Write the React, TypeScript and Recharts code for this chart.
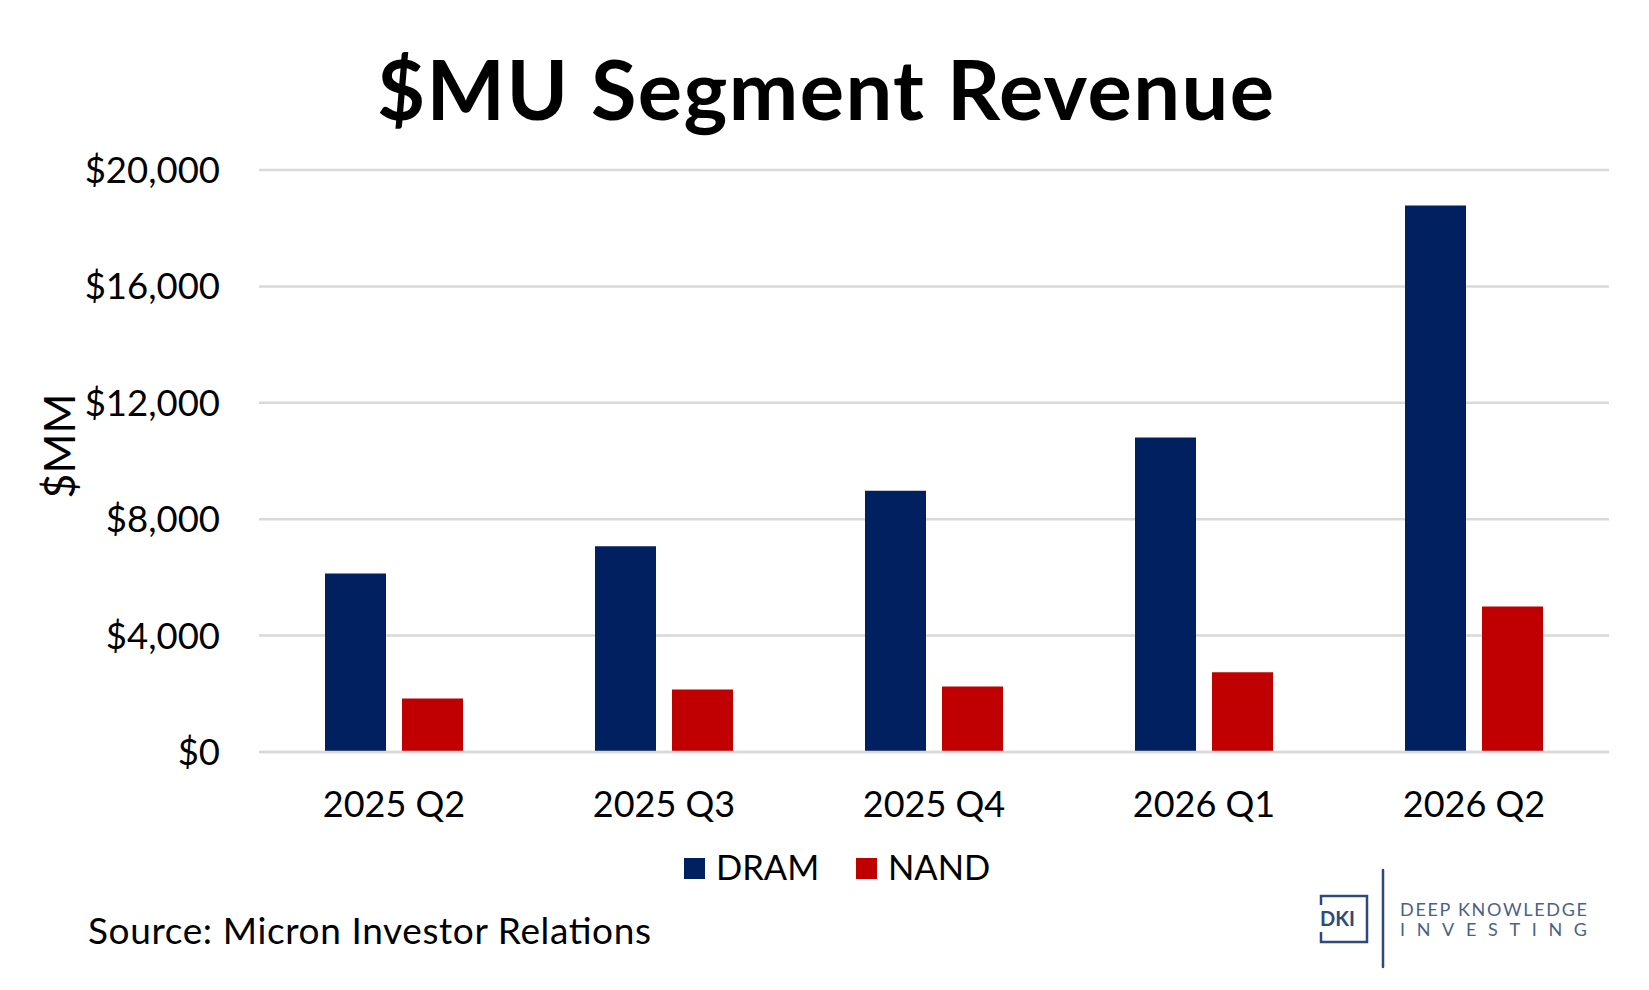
import { Bar, BarChart, CartesianGrid, XAxis, YAxis } from 'recharts';
import type { JSX } from 'react';

const quarters = ['2025 Q2', '2025 Q3', '2025 Q4', '2026 Q1', '2026 Q2'];
const dramRevenue = [6130, 7070, 8980, 10810, 18780];
const nandRevenue = [1840, 2150, 2250, 2740, 5000];
const yTicks = [0, 4000, 8000, 12000, 16000, 20000];

const series = [
  { key: 'DRAM', color: '#002060' },
  { key: 'NAND', color: '#C00000' },
];

const data = quarters.map((quarter, i) => ({
  quarter,
  DRAM: dramRevenue[i],
  NAND: nandRevenue[i],
}));

const FONT = 'Lato, "Open Sans", sans-serif';
const W = 1649;
const H = 990;
const LOGO = '#2e4a7d';

function formatDollars(value: number): string {
  return '$' + value.toLocaleString('en-US');
}

function Overlay(): JSX.Element {
  return (
    <svg width={W} height={H} style={{ position: 'absolute', left: 0, top: 0, pointerEvents: 'none' }}>
      <text
        x={377}
        y={120}
        fontFamily={FONT}
        fontWeight={700}
        fontSize={83}
        fill="#000"
        textLength={897}
        lengthAdjust="spacing"
      >
        $MU Segment Revenue
      </text>
      <text
        x={75}
        y={446}
        textAnchor="middle"
        transform="rotate(-90, 75, 446)"
        fontFamily={FONT}
        fontSize={43}
        fill="#000"
      >
        $MM
      </text>

      {/* legend */}
      {series.map((s, i) => {
        const x0 = i === 0 ? 684 : 856;
        return (
          <g key={s.key}>
            <rect x={x0} y={858} width={21} height={21} fill={s.color} />
            <text x={x0 + 32} y={880} fontFamily={FONT} fontSize={34.5} fill="#000">
              {s.key}
            </text>
          </g>
        );
      })}

      <text x={88} y={944} fontFamily={FONT} fontSize={37} fill="#000" textLength={563} lengthAdjust="spacing">
        Source: Micron Investor Relations
      </text>

      {/* logo */}
      <path
        d="M1321 905 L1321 896 L1367 896 L1367 942 L1321 942 L1321 932"
        fill="none"
        stroke={LOGO}
        strokeWidth={2.5}
      />
      <text x={1320} y={926} fontFamily={FONT} fontWeight={700} fontSize={20} fill={LOGO}>
        DKI
      </text>
      <line x1={1383} y1={870} x2={1383} y2={967} stroke={LOGO} strokeWidth={2.5} strokeLinecap="round" />
      <text x={1400} y={916} fontFamily={FONT} fontSize={18} fill="#4d6185" textLength={187} lengthAdjust="spacing">
        DEEP KNOWLEDGE
      </text>
      <text x={1400} y={936} fontFamily={FONT} fontSize={18} fill="#4d6185" textLength={187} lengthAdjust="spacing">
        INVESTING
      </text>
    </svg>
  );
}

export default function App(): JSX.Element {
  return (
    <div style={{ position: 'relative', width: W, height: H, background: '#fff', fontFamily: FONT }}>
      <style>{'body{margin:0}'}</style>
      <BarChart
        width={W}
        height={H}
        data={data}
        margin={{ top: 170, right: 40, bottom: 178, left: 39 }}
        barGap={16}
        barSize={61}
      >
        <CartesianGrid vertical={false} stroke="#d9d9d9" strokeWidth={2.5} />
        <XAxis
          dataKey="quarter"
          height={60}
          axisLine={{ stroke: '#d9d9d9', strokeWidth: 2.5 }}
          tickLine={false}
          tickSize={0}
          tickMargin={39}
          tick={{ fill: '#000', fontSize: 36, fontFamily: FONT }}
        />
        <YAxis
          width={220}
          domain={[0, 20000]}
          ticks={yTicks}
          axisLine={false}
          tickLine={false}
          tickSize={0}
          tickMargin={39}
          tickFormatter={formatDollars}
          tick={{ fill: '#000', fontSize: 36.5, fontFamily: FONT }}
        />
        {series.map((s) => (
          <Bar key={s.key} dataKey={s.key} fill={s.color} isAnimationActive={false} />
        ))}
      </BarChart>
      <Overlay />
    </div>
  );
}
